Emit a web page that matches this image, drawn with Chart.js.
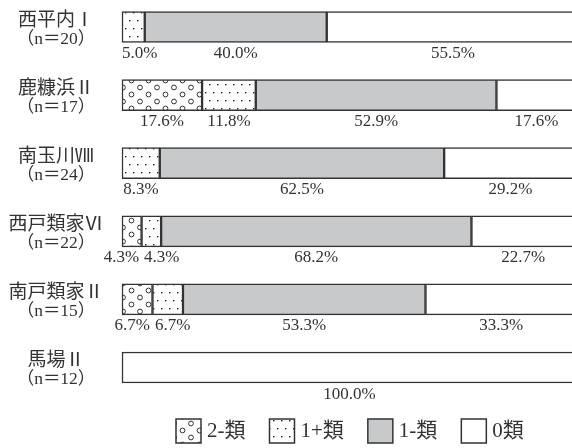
<!DOCTYPE html>
<html>
<head>
<meta charset="utf-8">
<script src="https://cdn.jsdelivr.net/npm/chart.js@4/dist/chart.umd.min.js"></script>
<style>
  html, body { margin: 0; padding: 0; background: #fff; overflow: hidden; }
  canvas { display: block; }
</style>
</head>
<body>
<canvas id="myChart" width="590" height="448"></canvas>
<script>
// sites and sample sizes
var sites = ['西平内Ⅰ', '鹿糠浜Ⅱ', '南玉川Ⅷ', '西戸類家Ⅵ', '南戸類家Ⅱ', '馬場Ⅱ'];
var counts = [20, 17, 24, 22, 15, 12];
// share of each class (%)
var class2 = [0, 17.6, 0, 4.3, 6.7, 0];
var class1p = [5.0, 11.8, 8.3, 4.3, 6.7, 0];
var class1m = [40.0, 52.9, 62.5, 68.2, 53.3, 0];
var class0 = [55.5, 17.6, 29.2, 22.7, 33.3, 100.0];
var classNames = ['2-類', '1+類', '1-類', '0類'];

var ink = '#333';

function circlePattern() {
  var c = document.createElement('canvas');
  c.width = 17; c.height = 14;
  var g = c.getContext('2d');
  g.fillStyle = '#fff';
  g.fillRect(0, 0, 17, 14);
  g.strokeStyle = ink;
  g.lineWidth = 1;
  [[4, 3.5], [12.5, 10.5]].forEach(function(p) {
    g.beginPath();
    g.arc(p[0], p[1], 2.4, 0, Math.PI * 2);
    g.stroke();
  });
  return g.createPattern(c, 'repeat');
}

function dotPattern() {
  var c = document.createElement('canvas');
  c.width = 8; c.height = 16;
  var g = c.getContext('2d');
  g.fillStyle = '#fff';
  g.fillRect(0, 0, 8, 16);
  g.fillStyle = '#222';
  g.fillRect(1, 4, 1.4, 1.4);
  g.fillRect(5, 12, 1.4, 1.4);
  return g.createPattern(c, 'repeat');
}

var fills = [circlePattern(), dotPattern(), '#c8c9ca', '#ffffff'];
var series = [class2, class1p, class1m, class0];

function nz(arr) {
  return arr.map(function(v) { return v ? v : null; });
}

// percent labels under each segment
var pctLabels = {
  id: 'pctLabels',
  afterDatasetsDraw: function(chart) {
    var ctx = chart.ctx;
    ctx.save();
    ctx.font = '17px "Liberation Serif", serif';
    ctx.fillStyle = ink;
    ctx.textAlign = 'center';
    ctx.textBaseline = 'alphabetic';
    for (var j = 0; j < sites.length; j++) {
      var row = [];
      var yb = 0;
      for (var i = 0; i < series.length; i++) {
        var v = series[i][j];
        if (!v) continue;
        var el = chart.getDatasetMeta(i).data[j];
        var txt = v.toFixed(1) + '%';
        row.push({c: (el.x + el.base) / 2, w: ctx.measureText(txt).width, t: txt, moved: false});
        yb = el.y + el.height / 2;
      }
      for (var k = 1; k < row.length; k++) {
        var a = row[k - 1], b = row[k];
        var need = (a.w + b.w) / 2 + 5 - (b.c - a.c);
        if (need > 0) {
          a.c -= need / 2; b.c += need / 2;
          a.moved = b.moved = true;
        }
      }
      if (row.length && !row[0].moved && row[0].c - row[0].w / 2 < chart.chartArea.left) {
        row[0].c = chart.chartArea.left + row[0].w / 2;
      }
      row.forEach(function(r) {
        ctx.fillText(r.t, r.c, yb + 15.5);
      });
    }
    ctx.restore();
  }
};

// site names, sample sizes and the legend
var sideText = {
  id: 'sideText',
  afterDraw: function(chart) {
    var ctx = chart.ctx;
    var y = chart.scales.y;
    ctx.save();
    ctx.fillStyle = ink;
    ctx.textAlign = 'center';
    ctx.textBaseline = 'middle';
    for (var j = 0; j < sites.length; j++) {
      var py = y.getPixelForValue(j);
      ctx.font = '19px "Noto Sans CJK JP", sans-serif';
      ctx.fillText(sites[j], 56, py - 8.5);
      ctx.font = '17.5px "Liberation Serif", "Noto Sans CJK JP", serif';
      ctx.fillText('（n＝' + counts[j] + '）', 56, py + 12);
    }

    // legend
    var x = 176, boxW = 25, boxH = 24, cy = 431;
    ctx.font = '21px "Liberation Serif", "Noto Sans CJK JP", serif';
    ctx.textAlign = 'left';
    for (var i = 0; i < classNames.length; i++) {
      ctx.fillStyle = fills[i];
      ctx.fillRect(x, cy - boxH / 2, boxW, boxH);
      ctx.strokeStyle = ink;
      ctx.lineWidth = 1.5;
      ctx.strokeRect(x, cy - boxH / 2, boxW, boxH);
      x += boxW + 6;
      ctx.fillStyle = ink;
      ctx.fillText(classNames[i], x, cy);
      x += ctx.measureText(classNames[i]).width + 24;
    }
    ctx.restore();
  }
};

var datasets = series.map(function(s, i) {
  return {
    label: classNames[i],
    data: nz(s),
    backgroundColor: fills[i],
    borderColor: ink,
    borderWidth: 1.5,
    borderSkipped: false,
    barThickness: 31,
    clip: false
  };
});

const ctxEl = document.getElementById('myChart');
var myChart = new Chart(ctxEl, {
  type: 'bar',
  data: {
    labels: sites,
    datasets: datasets
  },
  options: {
    indexAxis: 'y',
    responsive: false,
    animation: false,
    devicePixelRatio: 1,
    layout: {
      padding: {left: 122, right: 13, top: 27, bottom: 80.5}
    },
    scales: {
      x: {stacked: true, min: 0, max: 100, display: false},
      y: {stacked: true, offset: false, display: false}
    },
    plugins: {
      legend: {display: false},
      tooltip: {enabled: false}
    }
  },
  plugins: [pctLabels, sideText]
});
</script>
</body>
</html>
